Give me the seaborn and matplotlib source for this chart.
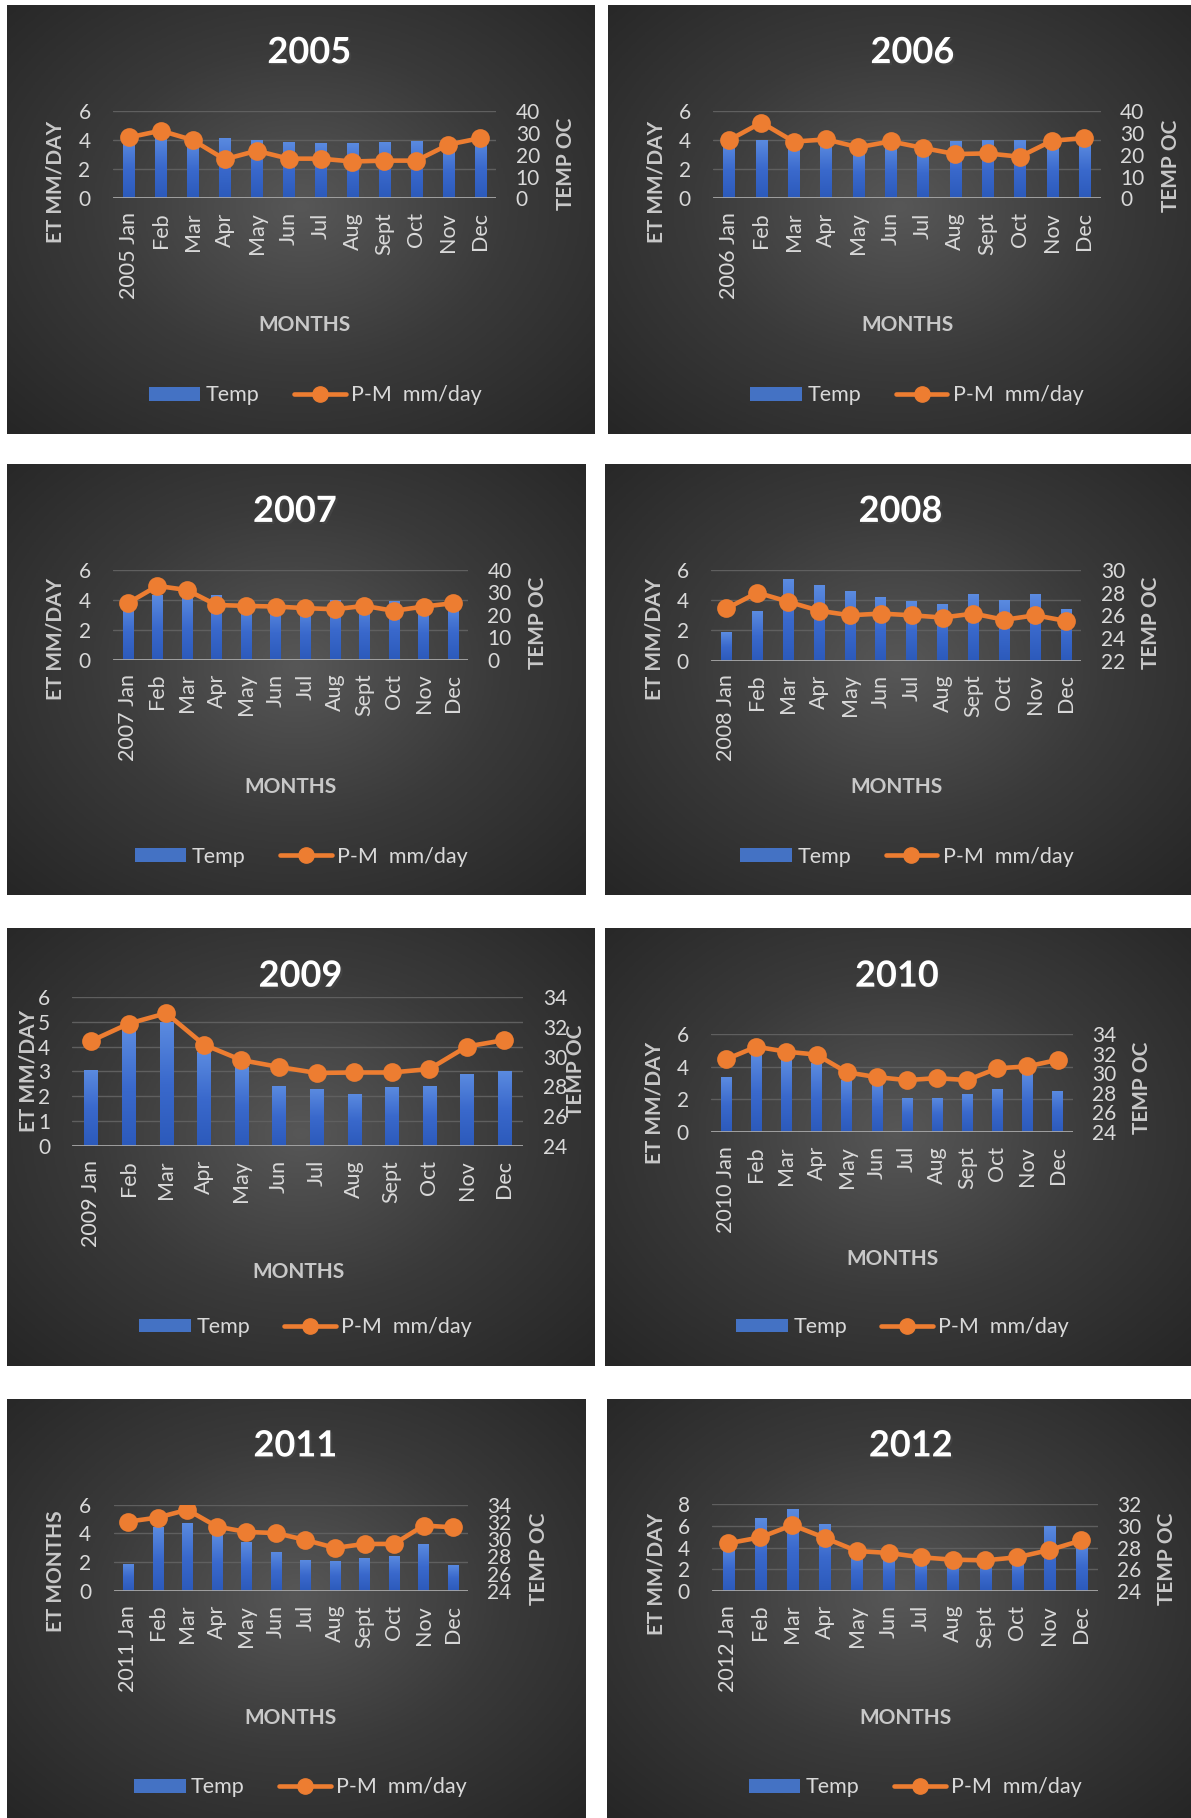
import numpy as np
import matplotlib
matplotlib.use("Agg")
import matplotlib.pyplot as plt
import matplotlib.patheffects as pe
from matplotlib.colors import LinearSegmentedColormap
from matplotlib.patches import Patch
from matplotlib.lines import Line2D
import seaborn as sns

sns.set_style("white")
plt.rcParams["font.family"] = ["Lato", "DejaVu Sans"]

# ---------------------------------------------------------------- data
years = [2005, 2006, 2007, 2008, 2009, 2010, 2011, 2012]
month_names = ["Jan", "Feb", "Mar", "Apr", "May", "Jun",
               "Jul", "Aug", "Sept", "Oct", "Nov", "Dec"]

# bar series ("Temp", left axis)
temp_2005 = [4.0, 4.3, 3.9, 4.17, 4.0, 3.87, 3.8, 3.8, 3.87, 3.94, 3.6, 4.1]
temp_2006 = [3.8, 4.0, 3.7, 3.8, 3.3, 3.6, 3.4, 3.94, 4.0, 4.0, 3.7, 3.8]
temp_2007 = [3.7, 4.3, 4.3, 4.33, 3.7, 3.6, 3.5, 3.98, 3.8, 3.96, 3.6, 3.8]
temp_2008 = [1.9, 3.29, 5.41, 5.01, 4.61, 4.22, 3.95, 3.75, 4.42, 4.02, 4.42, 3.42]
temp_2009 = [3.07, 4.7, 5.0, 3.8, 3.16, 2.43, 2.31, 2.11, 2.39, 2.43, 2.91, 3.03]
temp_2010 = [3.35, 4.78, 4.4, 4.2, 3.2, 3.0, 2.11, 2.11, 2.36, 2.66, 3.56, 2.54]
temp_2011 = [1.9, 4.42, 4.75, 3.96, 3.38, 2.73, 2.18, 2.1, 2.31, 2.45, 3.29, 1.83]
temp_2012 = [4.2, 6.75, 7.58, 6.2, 3.6, 3.4, 2.9, 2.8, 2.8, 3.0, 6.0, 4.5]

# line series ("P-M  mm/day", right axis)
pm_2005 = [27.9, 31.0, 26.7, 17.9, 21.8, 18.2, 18.2, 16.9, 17.3, 17.3, 24.6, 27.6]
pm_2006 = [26.7, 34.7, 26.0, 27.0, 23.4, 26.1, 23.1, 20.3, 20.6, 19.1, 26.4, 27.6]
pm_2007 = [25.2, 32.9, 31.1, 24.4, 24.0, 23.7, 23.0, 22.5, 24.0, 21.8, 23.7, 25.2]
pm_2008 = [26.6, 28.0, 27.2, 26.4, 26.0, 26.15, 26.0, 25.8, 26.15, 25.6, 26.0, 25.5]
pm_2009 = [31.04, 32.2, 32.9, 30.8, 29.76, 29.3, 28.9, 28.93, 28.93, 29.16, 30.67, 31.1]
pm_2010 = [31.42, 32.7, 32.2, 31.9, 30.1, 29.6, 29.3, 29.5, 29.3, 30.5, 30.7, 31.36]
pm_2011 = [32.03, 32.5, 33.4, 31.45, 30.83, 30.7, 29.9, 28.98, 29.44, 29.44, 31.57, 31.37]
pm_2012 = [28.39, 28.94, 30.07, 28.9, 27.68, 27.5, 27.1, 26.88, 26.82, 27.1, 27.77, 28.66]

temp_series = [temp_2005, temp_2006, temp_2007, temp_2008,
               temp_2009, temp_2010, temp_2011, temp_2012]
pm_series = [pm_2005, pm_2006, pm_2007, pm_2008,
             pm_2009, pm_2010, pm_2011, pm_2012]

left_ticks = [[0, 2, 4, 6], [0, 2, 4, 6], [0, 2, 4, 6], [0, 2, 4, 6],
              [0, 1, 2, 3, 4, 5, 6], [0, 2, 4, 6], [0, 2, 4, 6], [0, 2, 4, 6, 8]]
right_ticks = [[0, 10, 20, 30, 40], [0, 10, 20, 30, 40], [0, 10, 20, 30, 40],
               [22, 24, 26, 28, 30], [24, 26, 28, 30, 32, 34],
               [24, 26, 28, 30, 32, 34], [24, 26, 28, 30, 32, 34],
               [24, 26, 28, 30, 32]]
left_titles = ["ET MM/DAY"] * 6 + ["ET MONTHS", "ET MM/DAY"]
right_title = "TEMP OC"
x_title = "MONTHS"
bar_label = "Temp"
line_label = "P-M  mm/day"

# ---------------------------------------------------------------- layout
W, H = 1191, 1818
# panel box in pixels (x0, y0, x1, y1), then fractions inside the panel
# axes (left, top, right, bottom), title, x-title, legend, left/right titles
layout = [
    dict(box=(7, 5, 595, 434), ax=(0.180, 0.247, 0.832, 0.451), title=(0.514, 0.111),
         months=(0.506, 0.747), leg=(0.524, 0.910), lt=(0.083, 0.412), rt=(0.951, 0.370)),
    dict(box=(608, 5, 1191, 434), ax=(0.180, 0.247, 0.845, 0.451), title=(0.522, 0.111),
         months=(0.513, 0.747), leg=(0.530, 0.910), lt=(0.083, 0.412), rt=(0.966, 0.374)),
    dict(box=(7, 464, 586, 895), ax=(0.183, 0.246, 0.796, 0.454), title=(0.497, 0.110),
         months=(0.489, 0.750), leg=(0.508, 0.911), lt=(0.084, 0.407), rt=(0.917, 0.369)),
    dict(box=(605, 464, 1191, 895), ax=(0.181, 0.246, 0.813, 0.456), title=(0.504, 0.110),
         months=(0.497, 0.750), leg=(0.515, 0.911), lt=(0.085, 0.407), rt=(0.932, 0.369)),
    dict(box=(7, 928, 595, 1366), ax=(0.111, 0.157, 0.878, 0.498), title=(0.499, 0.110),
         months=(0.496, 0.786), leg=(0.508, 0.911), lt=(0.037, 0.327), rt=(0.967, 0.326)),
    dict(box=(605, 928, 1191, 1366), ax=(0.181, 0.242, 0.798, 0.466), title=(0.498, 0.110),
         months=(0.490, 0.755), leg=(0.508, 0.911), lt=(0.085, 0.400), rt=(0.917, 0.364)),
    dict(box=(7, 1399, 586, 1818), ax=(0.184, 0.252, 0.796, 0.458), title=(0.498, 0.112),
         months=(0.490, 0.761), leg=(0.507, 0.927), lt=(0.084, 0.412), rt=(0.919, 0.381)),
    dict(box=(607, 1399, 1191, 1818), ax=(0.180, 0.251, 0.840, 0.458), title=(0.520, 0.112),
         months=(0.511, 0.761), leg=(0.528, 0.927), lt=(0.085, 0.417), rt=(0.959, 0.381)),
]

ORANGE = "#ED7D31"
BLUE = "#4472C4"
TICK_COLOR = "#d9d9d9"
TITLE_GRAY = "#c8c8c8"

bg_cmap = LinearSegmentedColormap.from_list("bg", ["#575757", "#3a3a3a", "#262626"])
bar_cmap = LinearSegmentedColormap.from_list("bar", ["#2c5abb", "#3a69cc", "#5b8be0"])

fig = plt.figure(figsize=(W / 100, H / 100), dpi=100, facecolor="white")


def frac_rect(x0, y0, x1, y1):
    return [x0 / W, 1 - y1 / H, (x1 - x0) / W, (y1 - y0) / H]


def panel_point(box, fx, fy):
    x0, y0, x1, y1 = box
    return (x0 + fx * (x1 - x0)) / W, 1 - (y0 + fy * (y1 - y0)) / H


yy, xx = np.mgrid[0:1:300j, 0:1:300j]
radial = np.hypot((xx - 0.5), (yy - 0.47) * 0.95) / np.hypot(0.5, 0.5)
bar_grad = np.linspace(0, 1, 64).reshape(-1, 1)

for i, year in enumerate(years):
    lay = layout[i]
    box = lay["box"]
    x0, y0, x1, y1 = box
    labels = [f"{year} {month_names[0]}"] + month_names[1:]

    # panel background with soft radial shading
    bg = fig.add_axes(frac_rect(*box))
    bg.imshow(radial, extent=[0, 1, 0, 1], aspect="auto", cmap=bg_cmap,
              vmin=0, vmax=1, origin="upper")
    bg.set_axis_off()

    al, at, ar, ab = lay["ax"]
    ax = fig.add_axes(frac_rect(x0 + al * (x1 - x0), y0 + at * (y1 - y0),
                                x0 + ar * (x1 - x0), y0 + ab * (y1 - y0)))
    ax.patch.set_alpha(0)

    sns.barplot(x=labels, y=temp_series[i], ax=ax, color=BLUE, saturation=1,
                width=0.35, zorder=2, edgecolor="none", linewidth=0)
    # vertical shading inside each bar
    for bar in list(ax.patches):
        bx, _ = bar.get_xy()
        bw, bh = bar.get_width(), bar.get_height()
        im = ax.imshow(bar_grad, extent=[bx, bx + bw, 0, bh], aspect="auto",
                       cmap=bar_cmap, origin="lower", zorder=2.1,
                       interpolation="bilinear")
        im.set_clip_path(bar)

    lt = left_ticks[i]
    ax.set_ylim(lt[0], lt[-1])
    ax.set_yticks(lt)
    ax.yaxis.grid(True, color="#5f5f5f", lw=1.0)
    ax.xaxis.grid(False)
    ax.set_axisbelow(True)
    ax.axhline(lt[0], color="#a8a8a8", lw=2.0, zorder=3)

    ax2 = ax.twinx()
    sns.pointplot(x=labels, y=pm_series[i], ax=ax2, color=ORANGE, markers="o",
                  linestyles="-", errorbar=None, markersize=11, linewidth=3.3)
    rt = right_ticks[i]
    ax2.set_ylim(rt[0], rt[-1])
    ax2.set_yticks(rt)

    ax.set_xlim(-0.5, 11.5)
    ax.set_xticks(range(12))
    ax.set_xticklabels(labels)

    for a in (ax, ax2):
        for s in a.spines.values():
            s.set_visible(False)
        a.set_xlabel("")
        a.set_ylabel("")
    ax.tick_params(axis="y", length=0, pad=16, labelsize=15, labelcolor=TICK_COLOR)
    ax2.tick_params(axis="y", length=0, pad=14, labelsize=15, labelcolor=TICK_COLOR)
    ax.tick_params(axis="x", length=0, pad=10, labelsize=15.5, labelcolor=TICK_COLOR,
                   rotation=90)

    # titles and legend
    tx, ty = panel_point(box, *lay["title"])
    fig.text(tx, ty, str(year), ha="center", va="center", fontsize=26,
             fontweight="bold", color="white",
             path_effects=[pe.SimplePatchShadow(offset=(1.5, -1.5), alpha=0.5),
                           pe.Normal()])
    mx, my = panel_point(box, *lay["months"])
    fig.text(mx, my, x_title, ha="center", va="center", fontsize=15,
             fontweight="bold", color=TITLE_GRAY)
    lx, ly = panel_point(box, *lay["lt"])
    fig.text(lx, ly, left_titles[i], ha="center", va="center", rotation=90,
             fontsize=15, fontweight="bold", color=TITLE_GRAY)
    rx, ry = panel_point(box, *lay["rt"])
    fig.text(rx, ry, right_title, ha="center", va="center", rotation=90,
             fontsize=15, fontweight="bold", color=TITLE_GRAY)

    handles = [Patch(facecolor=BLUE, edgecolor="none"),
               Line2D([], [], color=ORANGE, lw=3.3, marker="o", markersize=11)]
    gx, gy = panel_point(box, *lay["leg"])
    fig.legend(handles, [bar_label, line_label], loc="center", bbox_to_anchor=(gx, gy),
               ncol=2, frameon=False, fontsize=15.5, labelcolor=TICK_COLOR,
               handlelength=2.4, handleheight=0.6, handletextpad=0.25,
               columnspacing=1.6)

fig.savefig("out.png", dpi=100, facecolor="white")
